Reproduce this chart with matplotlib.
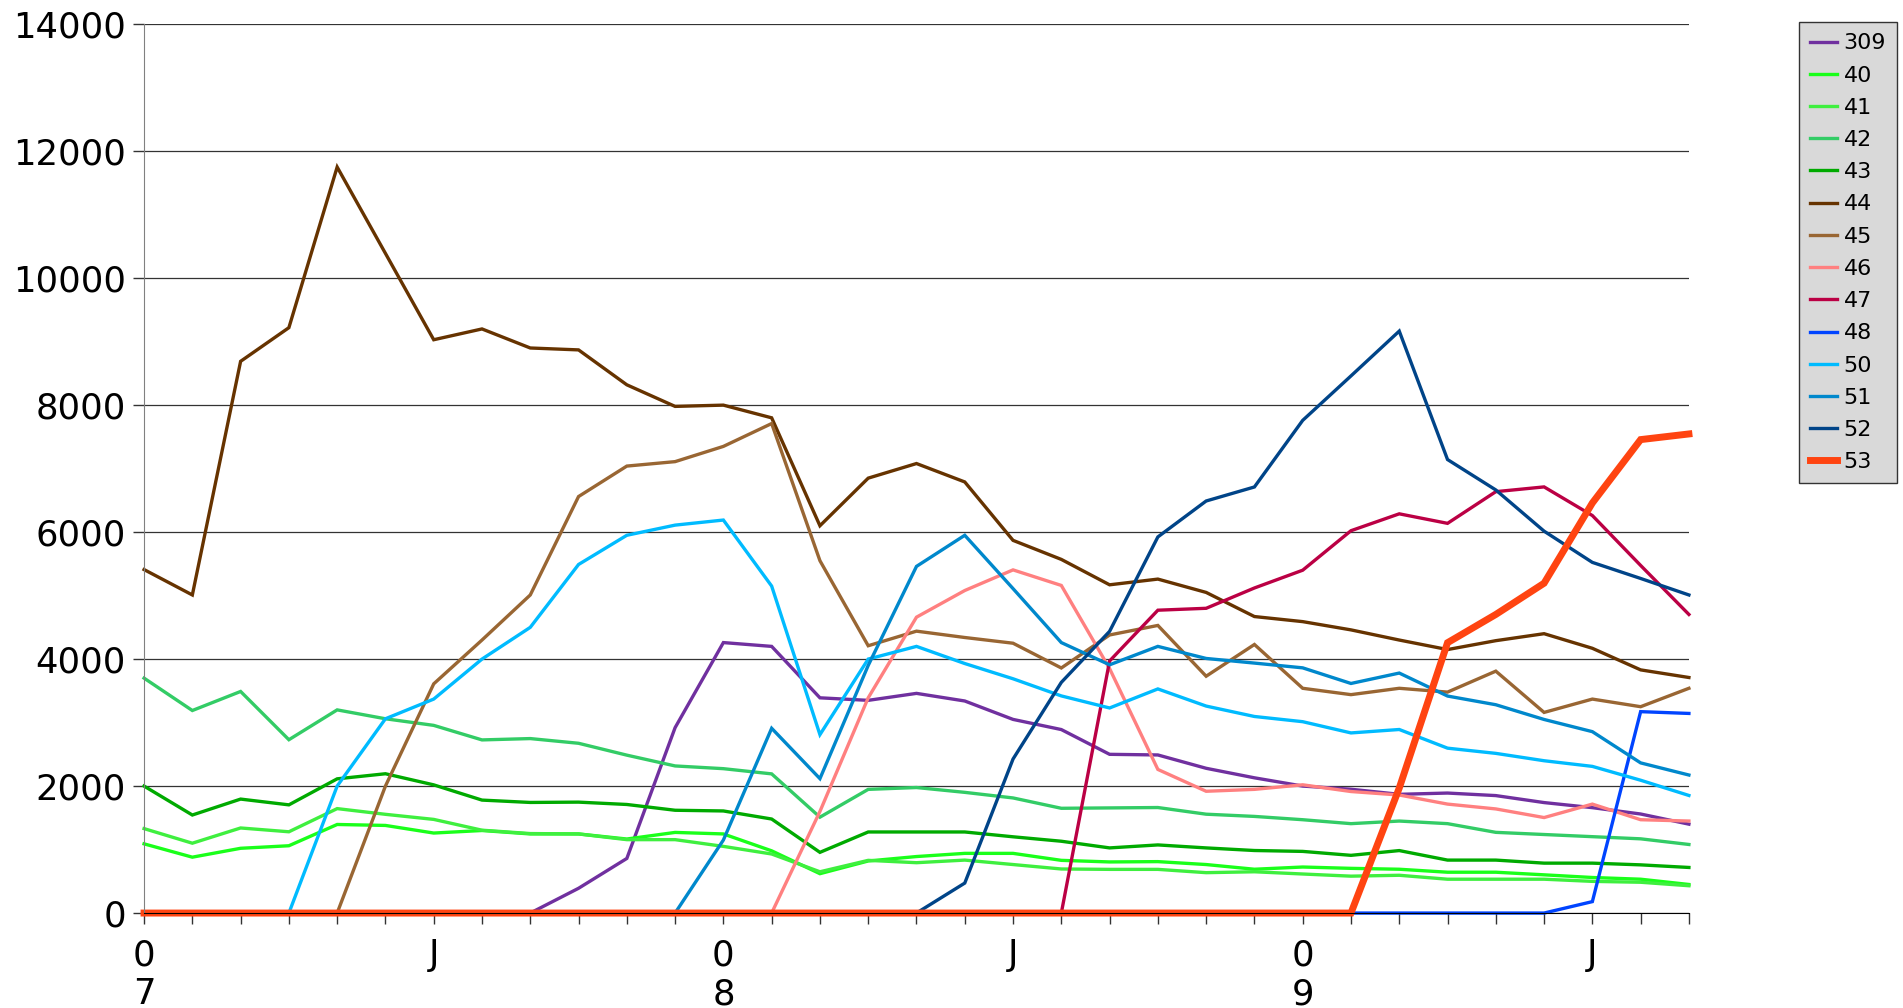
import matplotlib
matplotlib.use('Agg')
import matplotlib.pyplot as plt
import numpy as np

# x tick labels (one point per period)
x_labels = ['0\n7', '', '', '', '', '', 'J', '', '', '', '', '', '0\n8', '', '', '', '', '', 'J',
            '', '', '', '', '', '0\n9', '', '', '', '', '', 'J', '', '']

names = ['309', '40', '41', '42', '43', '44', '45', '46', '47', '48', '50', '51', '52', '53']
colors = ['#70309f', '#1aff1a', '#3fef3f', '#33cc66', '#00aa00', '#663300', '#996633',
          '#ff8080', '#bb0044', '#0044ff', '#00bbff', '#0088cc', '#004488', '#ff4411']

s309 = [0, 0, 0, 0, 0, 0, 0, 0, 0, 390, 860, 2920, 4260, 4200, 3390, 3350, 3460, 3340, 3050,
        2890, 2500, 2490, 2280, 2130, 2000, 1950, 1870, 1890, 1850, 1740, 1660, 1560, 1400]
s40 = [1090, 880, 1020, 1060, 1395, 1380, 1260, 1300, 1246, 1246, 1166, 1270, 1246, 980, 620,
       820, 890, 940, 940, 830, 805, 810, 764, 690, 725, 704, 690, 643, 643, 602, 560, 533, 450]
s41 = [1330, 1100, 1340, 1280, 1645, 1555, 1475, 1305, 1252, 1246, 1156, 1156, 1050, 930, 650,
       830, 793, 834, 764, 694, 688, 688, 636, 650, 615, 581, 595, 533, 533, 533, 499, 485, 430]
s42 = [3700, 3190, 3490, 2730, 3200, 3060, 2956, 2727, 2748, 2674, 2487, 2317, 2274, 2192, 1510,
       1948, 1977, 1901, 1813, 1650, 1656, 1662, 1557, 1522, 1470, 1408, 1449, 1408, 1271, 1237,
       1203, 1169, 1080]
s43 = [2000, 1544, 1795, 1704, 2114, 2194, 2019, 1779, 1742, 1747, 1710, 1619, 1608, 1481, 956,
       1277, 1277, 1277, 1201, 1131, 1026, 1073, 1026, 985, 971, 909, 984, 834, 834, 786, 786,
       759, 718]
s44 = [5410, 5010, 8690, 9220, 11750, 10390, 9030, 9200, 8900, 8870, 8320, 7980, 8000, 7800,
       6100, 6850, 7080, 6790, 5870, 5570, 5170, 5260, 5050, 4670, 4590, 4460, 4300, 4150, 4290,
       4400, 4170, 3830, 3710]
s45 = [0, 0, 0, 0, 0, 2000, 3610, 4300, 5010, 6560, 7040, 7110, 7350, 7710, 5550, 4210, 4440,
       4340, 4250, 3860, 4380, 4530, 3730, 4230, 3540, 3440, 3540, 3480, 3810, 3160, 3370, 3250,
       3540]
s46 = [0, 0, 0, 0, 0, 0, 0, 0, 0, 0, 0, 0, 0, 0, 1600, 3390, 4660, 5080, 5405, 5160, 3850, 2262,
       1918, 1948, 2020, 1914, 1859, 1716, 1640, 1504, 1716, 1470, 1449]
s47 = [0, 0, 0, 0, 0, 0, 0, 0, 0, 0, 0, 0, 0, 0, 0, 0, 0, 0, 0, 0, 3970, 4770, 4800, 5120, 5400,
       6022, 6288, 6138, 6637, 6712, 6261, 5475, 4703]
s48 = [0, 0, 0, 0, 0, 0, 0, 0, 0, 0, 0, 0, 0, 0, 0, 0, 0, 0, 0, 0, 0, 0, 0, 0, 0, 0, 0, 0, 0, 0,
       180, 3172, 3144]
s50 = [0, 0, 0, 0, 2000, 3060, 3370, 4000, 4500, 5490, 5950, 6110, 6190, 5150, 2810, 4000, 4200,
       3930, 3690, 3420, 3230, 3530, 3260, 3096, 3014, 2837, 2891, 2597, 2515, 2399, 2310, 2092,
       1852]
s51 = [0, 0, 0, 0, 0, 0, 0, 0, 0, 0, 0, 0, 1150, 2910, 2117, 3900, 5460, 5950, 5110, 4260, 3910,
       4200, 4010, 3937, 3862, 3616, 3780, 3418, 3281, 3049, 2857, 2365, 2174]
s52 = [0, 0, 0, 0, 0, 0, 0, 0, 0, 0, 0, 0, 0, 0, 0, 0, 0, 472, 2426, 3633, 4437, 5924, 6490, 6711,
       7760, 8460, 9166, 7143, 6664, 6015, 5523, 5270, 5010]
s53 = [0, 0, 0, 0, 0, 0, 0, 0, 0, 0, 0, 0, 0, 0, 0, 0, 0, 0, 0, 0, 0, 0, 0, 0, 0, 0, 1969, 4258,
       4703, 5195, 6459, 7457, 7546]

series = [s309, s40, s41, s42, s43, s44, s45, s46, s47, s48, s50, s51, s52, s53]

fig = plt.figure(figsize=(19.03, 10.08), dpi=100)
ax = fig.add_axes([0.0757, 0.0942, 0.8118, 0.8818])

x = np.arange(len(x_labels))
for name, col, vals in zip(names, colors, series):
    lw = 5.0 if name == '53' else 2.4
    ax.plot(x, vals, color=col, linewidth=lw, label=name, solid_joinstyle='miter', clip_on=False)

ax.set_xlim(0, len(x_labels) - 1)
ax.set_ylim(0, 14000)
ax.set_yticks(np.arange(0, 14001, 2000))
ax.set_xticks(x)
ax.set_xticklabels(x_labels, fontsize=25.5, linespacing=1.2)
ax.tick_params(axis='y', labelsize=25.5, length=8, width=1, pad=5, color='#333333')
ax.tick_params(axis='x', length=8, width=1, pad=10, color='#333333')
ax.yaxis.grid(True, color='#333333', linewidth=0.9)
ax.set_axisbelow(True)
ax.spines['top'].set_visible(False)
ax.spines['right'].set_visible(False)
ax.spines['left'].set_color('#808080')
ax.spines['bottom'].set_color('#000000')

leg = ax.legend(loc='upper left', bbox_to_anchor=(0.9455, 0.978), bbox_transform=fig.transFigure,
                fontsize=16, frameon=True, fancybox=False, handlelength=1.2, handletextpad=0.3,
                labelspacing=0.55, borderpad=0.5, borderaxespad=0)
leg.get_frame().set_facecolor('#d9d9d9')
leg.get_frame().set_edgecolor('#333333')
leg.get_frame().set_alpha(1)

plt.savefig('out.png', dpi=100)
